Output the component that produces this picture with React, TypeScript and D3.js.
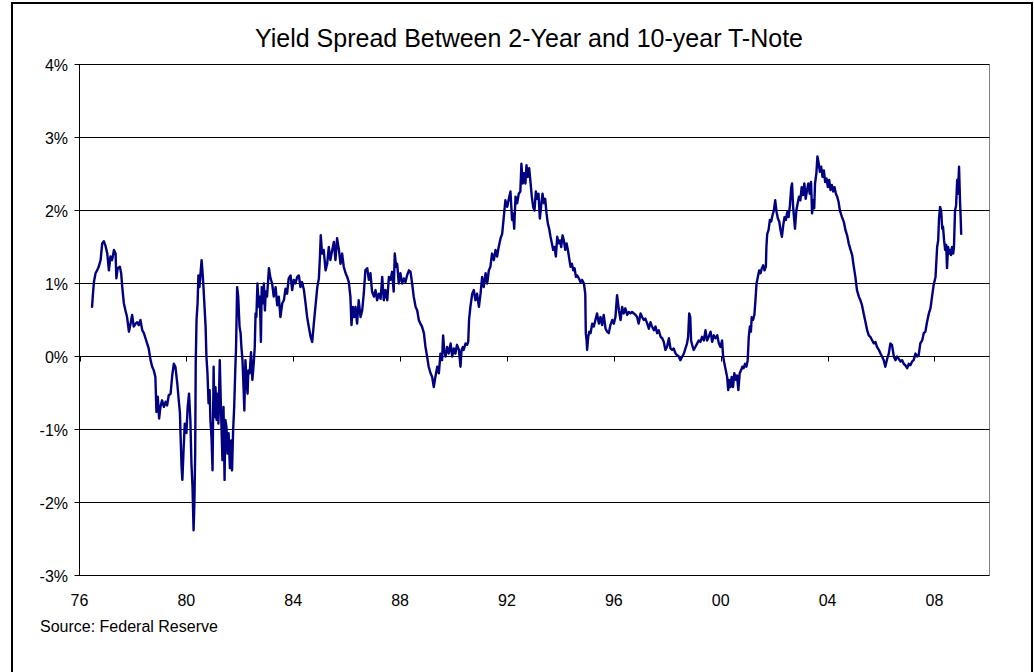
import React from 'react';
import * as d3 from 'd3';

// Yield spread (10-yr minus 2-yr), percent, [decimal year, value]
const spread1976to1982: [number, number][] = [
  [1976.47, 0.68], [1976.50, 0.84], [1976.54, 1.02], [1976.60, 1.14], [1976.66, 1.18], [1976.72, 1.23],
  [1976.79, 1.32], [1976.85, 1.55], [1976.91, 1.58], [1976.97, 1.52], [1977.04, 1.41], [1977.10, 1.18],
  [1977.16, 1.37], [1977.22, 1.32], [1977.29, 1.46], [1977.35, 1.41], [1977.38, 1.07], [1977.43, 1.21],
  [1977.51, 1.23], [1977.56, 1.14], [1977.60, 0.95], [1977.66, 0.73], [1977.72, 0.63], [1977.78, 0.54],
  [1977.85, 0.34], [1977.91, 0.45], [1977.97, 0.57], [1978.03, 0.41], [1978.10, 0.45], [1978.16, 0.47],
  [1978.22, 0.43], [1978.28, 0.50], [1978.35, 0.36], [1978.41, 0.32], [1978.47, 0.25], [1978.53, 0.18],
  [1978.59, 0.11], [1978.66, -0.05], [1978.72, -0.14], [1978.78, -0.19], [1978.84, -0.28], [1978.88, -0.76],
  [1978.93, -0.55], [1978.98, -0.85], [1979.03, -0.69], [1979.09, -0.60], [1979.16, -0.69], [1979.22, -0.62],
  [1979.28, -0.67], [1979.34, -0.53], [1979.41, -0.51], [1979.47, -0.26], [1979.53, -0.10], [1979.59, -0.14],
  [1979.66, -0.37], [1979.72, -0.62], [1979.76, -0.78], [1979.78, -1.05], [1979.82, -1.51], [1979.85, -1.69],
  [1979.90, -1.24], [1979.94, -0.92], [1980.00, -1.05], [1980.05, -0.69], [1980.10, -0.51], [1980.15, -0.87],
  [1980.19, -1.47], [1980.23, -1.79], [1980.27, -2.38], [1980.30, -2.01], [1980.33, -1.33], [1980.35, -0.10],
  [1980.38, 0.50], [1980.42, 0.73], [1980.45, 1.11], [1980.49, 0.95], [1980.53, 1.14], [1980.57, 1.32],
  [1980.60, 1.18], [1980.64, 0.95], [1980.68, 0.68], [1980.72, 0.41], [1980.75, 0.00], [1980.79, -0.23],
  [1980.83, -0.64], [1980.87, -0.46], [1980.90, -0.87], [1980.94, -1.10], [1980.98, -1.56], [1981.02, -0.14],
  [1981.05, -0.83], [1981.09, -0.42], [1981.13, -0.87], [1981.16, -0.51], [1981.20, -0.92], [1981.25, -0.05],
  [1981.30, -0.78], [1981.35, -1.42], [1981.39, -0.69], [1981.43, -1.69], [1981.46, -0.87], [1981.50, -0.96],
  [1981.54, -1.33], [1981.58, -1.05], [1981.63, -1.53], [1981.68, -1.15], [1981.71, -1.56], [1981.75, -1.01],
  [1981.79, -0.69], [1981.83, -0.19], [1981.86, 0.13], [1981.90, 0.95], [1981.94, 0.82], [1981.99, 0.41],
  [1982.03, 0.32], [1982.06, 0.13], [1982.10, -0.05], [1982.14, -0.42], [1982.17, -0.74], [1982.21, -0.05],
  [1982.25, -0.32], [1982.29, -0.51], [1982.32, -0.19], [1982.37, -0.23], [1982.42, 0.06], [1982.47, -0.32],
  [1982.52, -0.10], [1982.56, 0.13], [1982.59, 0.59], [1982.62, 0.54], [1982.66, 1.00], [1982.71, 0.68],
  [1982.75, 0.82], [1982.79, 0.20], [1982.82, 0.95], [1982.86, 0.73], [1982.90, 1.00], [1982.94, 0.63],
  [1982.97, 0.89],
];

const spread1983to1990: [number, number][] = [
  [1983.02, 0.82], [1983.09, 1.21], [1983.15, 1.07], [1983.21, 1.00], [1983.27, 0.82], [1983.34, 0.95],
  [1983.40, 0.70], [1983.46, 0.82], [1983.52, 0.54], [1983.59, 0.73], [1983.65, 0.77], [1983.71, 0.93],
  [1983.77, 0.86], [1983.83, 1.07], [1983.90, 1.11], [1983.96, 0.91], [1984.02, 1.05], [1984.08, 1.00],
  [1984.15, 1.09], [1984.21, 1.11], [1984.27, 0.95], [1984.33, 1.02], [1984.40, 0.91], [1984.46, 0.73],
  [1984.52, 0.54], [1984.58, 0.41], [1984.65, 0.27], [1984.71, 0.20], [1984.77, 0.45], [1984.83, 0.68],
  [1984.90, 0.95], [1984.96, 1.07], [1985.00, 1.37], [1985.03, 1.66], [1985.08, 1.41], [1985.14, 1.46],
  [1985.21, 1.18], [1985.27, 1.27], [1985.33, 1.50], [1985.39, 1.32], [1985.46, 1.46], [1985.52, 1.57],
  [1985.58, 1.32], [1985.64, 1.62], [1985.71, 1.46], [1985.77, 1.27], [1985.83, 1.41], [1985.89, 1.23],
  [1985.96, 1.14], [1986.02, 1.09], [1986.08, 1.02], [1986.14, 0.82], [1986.18, 0.43], [1986.23, 0.68],
  [1986.28, 0.54], [1986.33, 0.68], [1986.39, 0.45], [1986.45, 0.77], [1986.52, 0.54], [1986.58, 0.63],
  [1986.64, 0.86], [1986.70, 1.18], [1986.77, 1.21], [1986.83, 1.05], [1986.89, 1.14], [1986.95, 0.89],
  [1987.02, 0.82], [1987.08, 0.91], [1987.14, 0.77], [1987.20, 0.86], [1987.27, 0.79], [1987.33, 1.09],
  [1987.39, 0.77], [1987.45, 0.91], [1987.52, 0.77], [1987.58, 1.09], [1987.64, 1.05], [1987.70, 1.16],
  [1987.76, 0.89], [1987.80, 1.41], [1987.85, 1.23], [1987.89, 1.27], [1987.95, 1.00], [1988.01, 1.14],
  [1988.08, 1.00], [1988.14, 1.07], [1988.20, 1.02], [1988.26, 1.11], [1988.33, 1.18], [1988.39, 1.16],
  [1988.45, 1.00], [1988.51, 0.82], [1988.58, 0.68], [1988.64, 0.63], [1988.70, 0.50], [1988.76, 0.45],
  [1988.82, 0.41], [1988.89, 0.32], [1988.95, 0.13], [1989.01, 0.00], [1989.07, -0.14], [1989.14, -0.23],
  [1989.20, -0.28], [1989.26, -0.42], [1989.32, -0.28], [1989.39, -0.14], [1989.45, -0.23], [1989.51, 0.04],
  [1989.57, -0.05], [1989.61, 0.29], [1989.65, 0.09], [1989.70, 0.00], [1989.76, 0.13], [1989.82, 0.04],
  [1989.89, 0.18], [1989.95, 0.00], [1990.01, 0.11], [1990.07, 0.04], [1990.13, 0.16], [1990.20, 0.09],
];

const spread1990to1997: [number, number][] = [
  [1990.26, -0.14], [1990.30, 0.09], [1990.35, 0.13], [1990.38, 0.09], [1990.45, 0.18], [1990.51, 0.16],
  [1990.55, 0.20], [1990.58, 0.50], [1990.63, 0.68], [1990.70, 0.86], [1990.76, 0.91], [1990.82, 0.77],
  [1990.88, 0.86], [1990.95, 0.68], [1991.01, 0.86], [1991.07, 1.09], [1991.13, 0.95], [1991.20, 1.14],
  [1991.26, 1.00], [1991.32, 1.18], [1991.38, 1.23], [1991.44, 1.41], [1991.51, 1.32], [1991.57, 1.46],
  [1991.63, 1.37], [1991.69, 1.50], [1991.76, 1.62], [1991.82, 1.68], [1991.88, 1.91], [1991.94, 2.14],
  [1992.01, 2.05], [1992.07, 2.16], [1992.13, 2.26], [1992.19, 1.87], [1992.23, 1.96], [1992.27, 1.75],
  [1992.32, 2.19], [1992.38, 2.10], [1992.44, 2.23], [1992.50, 2.26], [1992.54, 2.64], [1992.59, 2.37],
  [1992.63, 2.51], [1992.69, 2.37], [1992.73, 2.62], [1992.78, 2.46], [1992.83, 2.58], [1992.88, 2.39],
  [1992.93, 2.19], [1992.98, 2.05], [1993.03, 2.00], [1993.08, 2.26], [1993.13, 2.16], [1993.18, 2.23],
  [1993.23, 1.89], [1993.28, 2.07], [1993.33, 2.23], [1993.38, 2.10], [1993.43, 2.16], [1993.48, 1.96],
  [1993.53, 1.82], [1993.58, 1.75], [1993.63, 1.64], [1993.68, 1.55], [1993.73, 1.46], [1993.78, 1.50],
  [1993.83, 1.37], [1993.88, 1.64], [1993.93, 1.55], [1993.98, 1.59], [1994.03, 1.50], [1994.08, 1.66],
  [1994.13, 1.59], [1994.18, 1.46], [1994.23, 1.55], [1994.28, 1.46], [1994.33, 1.34], [1994.38, 1.23],
  [1994.43, 1.27], [1994.48, 1.18], [1994.53, 1.21], [1994.58, 1.09], [1994.63, 1.11], [1994.69, 1.07],
  [1994.75, 1.02], [1994.81, 1.05], [1994.88, 1.00], [1994.93, 0.86], [1994.95, 0.32], [1994.98, 0.22],
  [1995.00, 0.09], [1995.04, 0.27], [1995.08, 0.34], [1995.13, 0.32], [1995.19, 0.45], [1995.25, 0.41],
  [1995.31, 0.50], [1995.37, 0.59], [1995.44, 0.45], [1995.50, 0.54], [1995.56, 0.43], [1995.62, 0.57],
  [1995.69, 0.38], [1995.75, 0.34], [1995.81, 0.32], [1995.87, 0.43], [1995.94, 0.50], [1996.00, 0.45],
  [1996.06, 0.54], [1996.12, 0.84], [1996.19, 0.63], [1996.25, 0.50], [1996.31, 0.68], [1996.37, 0.59],
  [1996.43, 0.66], [1996.50, 0.57], [1996.56, 0.61], [1996.62, 0.59], [1996.68, 0.61], [1996.75, 0.59],
  [1996.81, 0.57], [1996.87, 0.54], [1996.93, 0.45], [1997.00, 0.59], [1997.06, 0.54], [1997.12, 0.50],
  [1997.18, 0.52], [1997.25, 0.45], [1997.31, 0.38],
];

const spread1997to2004: [number, number][] = [
  [1997.37, 0.47], [1997.43, 0.41], [1997.50, 0.36], [1997.56, 0.41], [1997.62, 0.32], [1997.68, 0.36],
  [1997.75, 0.27], [1997.81, 0.25], [1997.87, 0.20], [1997.93, 0.09], [1997.99, 0.13], [1998.06, 0.25],
  [1998.12, 0.11], [1998.18, 0.09], [1998.24, 0.11], [1998.31, 0.04], [1998.37, 0.02], [1998.43, 0.00],
  [1998.49, -0.05], [1998.56, 0.00], [1998.62, 0.04], [1998.68, 0.11], [1998.74, 0.18], [1998.78, 0.27],
  [1998.82, 0.59], [1998.86, 0.54], [1998.89, 0.22], [1998.93, 0.16], [1998.99, 0.09], [1999.05, 0.13],
  [1999.12, 0.18], [1999.18, 0.22], [1999.24, 0.20], [1999.30, 0.27], [1999.37, 0.22], [1999.43, 0.36],
  [1999.49, 0.22], [1999.55, 0.27], [1999.62, 0.34], [1999.68, 0.20], [1999.74, 0.29], [1999.80, 0.25],
  [1999.87, 0.29], [1999.93, 0.18], [1999.99, 0.13], [2000.05, 0.22], [2000.09, 0.00], [2000.14, -0.10],
  [2000.19, -0.19], [2000.24, -0.28], [2000.28, -0.46], [2000.31, -0.32], [2000.36, -0.42], [2000.41, -0.28],
  [2000.46, -0.42], [2000.51, -0.23], [2000.56, -0.32], [2000.61, -0.26], [2000.66, -0.46], [2000.71, -0.23],
  [2000.76, -0.19], [2000.81, -0.14], [2000.86, -0.16], [2000.91, -0.10], [2000.96, -0.14], [2001.01, -0.05],
  [2001.05, 0.27], [2001.09, 0.41], [2001.13, 0.34], [2001.16, 0.54], [2001.21, 0.50], [2001.26, 0.57],
  [2001.30, 0.77], [2001.34, 1.00], [2001.39, 1.09], [2001.44, 1.18], [2001.49, 1.14], [2001.54, 1.21],
  [2001.59, 1.25], [2001.64, 1.18], [2001.69, 1.23], [2001.71, 1.50], [2001.74, 1.68], [2001.79, 1.73],
  [2001.84, 1.87], [2001.89, 1.85], [2001.94, 1.94], [2001.99, 2.00], [2002.04, 2.14], [2002.09, 1.98],
  [2002.14, 1.89], [2002.19, 1.85], [2002.24, 1.73], [2002.29, 1.64], [2002.34, 1.80], [2002.39, 1.91],
  [2002.44, 1.87], [2002.49, 1.98], [2002.54, 1.91], [2002.59, 2.07], [2002.64, 2.32], [2002.67, 2.37],
  [2002.71, 2.05], [2002.75, 1.87], [2002.78, 1.75], [2002.83, 2.00], [2002.88, 2.10], [2002.93, 2.19],
  [2002.98, 2.14], [2003.03, 2.32], [2003.08, 2.21], [2003.13, 2.37], [2003.18, 2.16], [2003.23, 2.28],
  [2003.28, 2.37], [2003.33, 2.23], [2003.38, 2.39], [2003.42, 1.96], [2003.46, 2.14], [2003.50, 2.03],
  [2003.53, 2.37], [2003.58, 2.51], [2003.62, 2.74], [2003.67, 2.64], [2003.71, 2.53], [2003.76, 2.60],
  [2003.81, 2.46], [2003.86, 2.55], [2003.91, 2.39], [2003.96, 2.44], [2004.01, 2.32], [2004.06, 2.42],
  [2004.11, 2.28], [2004.16, 2.35], [2004.21, 2.26], [2004.26, 2.32], [2004.31, 2.23], [2004.36, 2.19],
  [2004.41, 2.12], [2004.46, 2.00],
];

const spread2004to2008: [number, number][] = [
  [2004.54, 1.91], [2004.61, 1.84], [2004.67, 1.73], [2004.73, 1.66], [2004.79, 1.55], [2004.86, 1.46],
  [2004.92, 1.39], [2004.98, 1.23], [2005.04, 1.09], [2005.10, 0.91], [2005.17, 0.82], [2005.23, 0.77],
  [2005.29, 0.70], [2005.35, 0.59], [2005.42, 0.47], [2005.48, 0.36], [2005.54, 0.29], [2005.60, 0.27],
  [2005.67, 0.22], [2005.73, 0.18], [2005.79, 0.20], [2005.85, 0.13], [2005.92, 0.09], [2005.98, 0.04],
  [2006.04, 0.00], [2006.10, -0.05], [2006.16, -0.14], [2006.23, -0.03], [2006.29, 0.04], [2006.35, 0.18],
  [2006.41, 0.16], [2006.48, 0.00], [2006.54, -0.05], [2006.60, 0.00], [2006.66, -0.03], [2006.73, -0.07],
  [2006.79, -0.05], [2006.85, -0.10], [2006.91, -0.12], [2006.98, -0.16], [2007.04, -0.10], [2007.10, -0.12],
  [2007.16, -0.07], [2007.22, -0.05], [2007.29, 0.04], [2007.35, 0.00], [2007.41, 0.02], [2007.47, 0.18],
  [2007.54, 0.22], [2007.60, 0.32], [2007.66, 0.34], [2007.72, 0.47], [2007.79, 0.59], [2007.85, 0.66],
  [2007.91, 0.82], [2007.97, 0.98], [2008.04, 1.09], [2008.10, 1.50], [2008.14, 1.59], [2008.17, 1.89],
  [2008.21, 2.05], [2008.25, 2.00], [2008.29, 1.75], [2008.32, 1.78], [2008.36, 1.59], [2008.40, 1.46],
  [2008.44, 1.53], [2008.47, 1.21], [2008.51, 1.50], [2008.55, 1.41], [2008.59, 1.46], [2008.62, 1.39],
  [2008.66, 1.50], [2008.70, 1.41], [2008.73, 1.50], [2008.77, 2.00], [2008.81, 2.07], [2008.85, 2.42],
  [2008.88, 2.23], [2008.92, 2.60], [2008.96, 2.10], [2008.98, 1.91], [2009.00, 1.68],
];

const yTickValues = [-3, -2, -1, 0, 1, 2, 3, 4];
const xTickYears = [1976, 1980, 1984, 1988, 1992, 1996, 2000, 2004, 2008];
const xTickLabels = ['76', '80', '84', '88', '92', '96', '00', '04', '08'];

const titleText = 'Yield Spread Between 2-Year and 10-year T-Note';
const sourceText = 'Source: Federal Reserve';

const FONT = "Arial, 'Liberation Sans', Helvetica, sans-serif";

export default function App() {
  const W = 1034;
  const H = 672;
  const left = 79.5;
  const right = 989.5;
  const top = 64.5;
  const bottom = 575.5;

  const x = d3.scaleLinear().domain([1976, 2010.06]).range([left, right]);
  const y = d3.scaleLinear().domain([-3, 4]).range([bottom, top]);

  const series = [
    ...spread1976to1982,
    ...spread1983to1990,
    ...spread1990to1997,
    ...spread1997to2004,
    ...spread2004to2008,
  ];

  const linePath = d3
    .line<[number, number]>()
    .x((d) => x(d[0]))
    .y((d) => y(d[1]))(series) || '';

  const zeroY = y(0);

  return (
    <svg
      width={W}
      height={H}
      style={{ position: 'absolute', left: 0, top: 0, background: '#fff' }}
      fontFamily={FONT}
    >
      <rect x={0} y={0} width={W} height={H} fill="#fff" />
      {/* chart area border */}
      <rect x={12} y={3} width={1020} height={720} fill="none" stroke="#000" strokeWidth={2} />

      {/* title */}
      <text x={529} y={47} textAnchor="middle" fontSize={25} fill="#000">
        {titleText}
      </text>

      {/* plot area border (right) */}
      <line x1={right} x2={right} y1={top} y2={bottom} stroke="#808080" strokeWidth={1} />

      {/* gridlines + y ticks + labels */}
      {yTickValues.map((v) => (
        <g key={v}>
          <line x1={left - 5} x2={right} y1={y(v)} y2={y(v)} stroke="#000" strokeWidth={1} />
          <text x={68} y={y(v) + 6} textAnchor="end" fontSize={16} fill="#000">
            {`${v}%`}
          </text>
        </g>
      ))}

      {/* y axis */}
      <line x1={left} x2={left} y1={top} y2={bottom} stroke="#000" strokeWidth={1} />

      {/* x axis ticks at 0% */}
      {xTickYears.map((yr) => (
        <line
          key={yr}
          x1={Math.round(x(yr)) + 0.5}
          x2={Math.round(x(yr)) + 0.5}
          y1={zeroY}
          y2={zeroY + 5}
          stroke="#000"
          strokeWidth={1}
        />
      ))}

      {/* x labels */}
      {xTickYears.map((yr, i) => (
        <text key={yr} x={x(yr)} y={606} textAnchor="middle" fontSize={16} fill="#000">
          {xTickLabels[i]}
        </text>
      ))}

      {/* series */}
      <path
        d={linePath}
        fill="none"
        stroke="#000080"
        strokeWidth={2.4}
        strokeLinejoin="round"
        strokeLinecap="round"
      />

      {/* source */}
      <text x={40} y={632} fontSize={16} fill="#000">
        {sourceText}
      </text>
    </svg>
  );
}
